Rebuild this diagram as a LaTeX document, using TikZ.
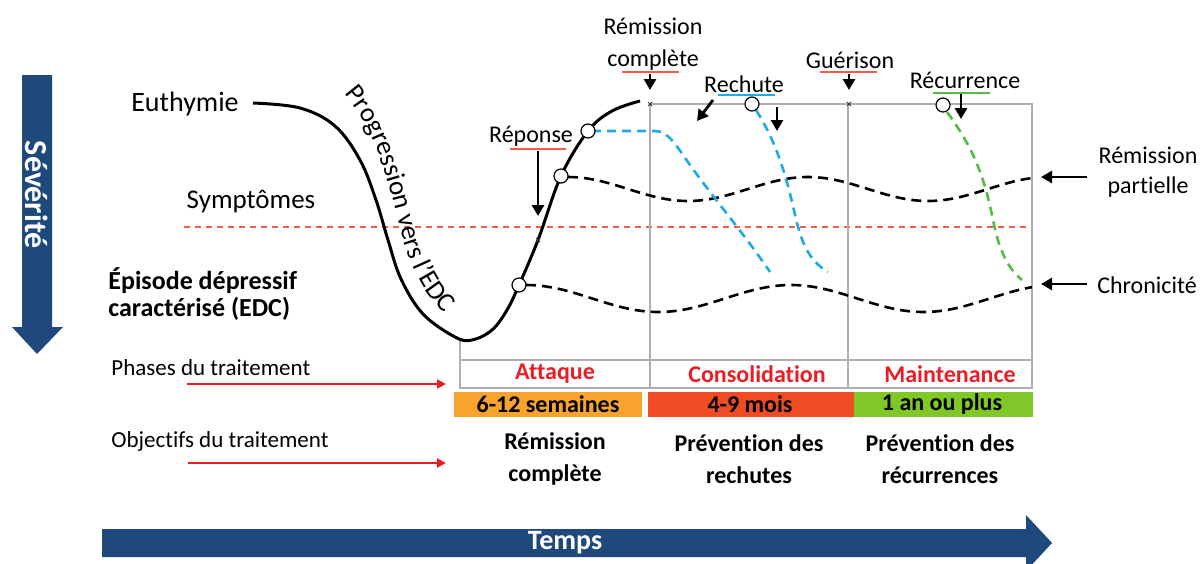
\documentclass[tikz,border=0pt]{standalone}
\usepackage{fontspec}
\setmainfont{Carlito}[Ligatures={TeX,NoCommon}]
\usetikzlibrary{arrows.meta, calc, decorations.text}

\definecolor{navy}{RGB}{31,73,125}
\definecolor{barorange}{RGB}{248,163,46}
\definecolor{barred}{RGB}{240,76,36}
\definecolor{bargreen}{RGB}{128,200,40}
\definecolor{phasered}{RGB}{236,28,36}
\definecolor{seuilred}{RGB}{246,92,72}
\definecolor{rechblue}{RGB}{30,170,230}
\definecolor{recgreen}{RGB}{84,186,72}
\definecolor{gridgray}{RGB}{175,175,175}

\begin{document}
\begin{tikzpicture}[x=0.5pt, y=-0.5pt,
    lbl/.style={inner sep=0pt, align=center, font=\fontsize{12}{16}\selectfont},
    phase/.style={lbl, text=phasered, font=\bfseries\fontsize{12}{16}\selectfont},
    goal/.style={lbl, font=\bfseries\fontsize{12}{16}\selectfont},
    ring/.style={circle, draw, fill=white, line width=0.6pt, inner sep=0pt, minimum size=7pt},
    blkarrow/.style={-{Triangle[length=5.5pt,width=6pt]}, line width=1.4pt},
    redarrow/.style={-{Triangle[length=4.5pt,width=4.5pt]}, line width=1.2pt, phasered},
    wave/.style={line width=1.3pt, dash pattern=on 5pt off 3pt},
    grid/.style={gridgray, line width=0.6pt}]
    \useasboundingbox (0,0) rectangle (1203,563);

    % axes
    \fill[navy] (22,75) -- (52,75) -- (52,327) -- (63,327) -- (37,354) -- (12,327) -- (22,327) -- cycle;
    \node[lbl, text=white, rotate=-90, font=\bfseries\fontsize{16}{16}\selectfont] (sev) at (37,195) {Sévérité};
    \fill[navy] (102,529) -- (1026,529) -- (1026,515) -- (1052,543) -- (1026,571) -- (1026,557) -- (102,557) -- cycle;
    \node[lbl, text=white, font=\bfseries\fontsize{14}{14}\selectfont] (temps) at (565,543) {Temps};

    % left labels
    \node[lbl, font=\fontsize{14}{16}\selectfont] (euth) at (185,104) {Euthymie};
    \node[lbl, font=\fontsize{13.5}{16}\selectfont] (sympt) at (251,202) {Symptômes};
    \node[lbl, anchor=west, align=left, font=\bfseries\fontsize{13}{13.5}\selectfont] (edc) at (108,294) {Épisode dépressif\\caractérisé (EDC)};
    \node[lbl, anchor=west, font=\fontsize{11.5}{14}\selectfont] (phases) at (111,368) {Phases du traitement};
    \node[lbl, anchor=west, font=\fontsize{11.5}{14}\selectfont] (objectifs) at (111,441) {Objectifs du traitement};
    \coordinate (pa1) at (187,384);
    \coordinate (pa2) at (446,384);
    \coordinate (oa1) at (188,463);
    \coordinate (oa2) at (446,463);
    \draw[redarrow] (pa1) -- (pa2);
    \draw[redarrow] (oa1) -- (oa2);

    % threshold
    \draw[seuilred, line width=0.7pt, dash pattern=on 3pt off 2.5pt] (184,227) -- (1032,227);

    % phases grid
    \draw[grid] (650,104) -- (1032,104) -- (1032,388) -- (460,388) -- (460,340);
    \draw[grid] (460,360) -- (1032,360);
    \draw[grid] (650,104) -- (650,388);
    \draw[grid] (848,104) -- (848,388);
    \node[phase] (attaque) at (555,374) {Attaque};
    \node[phase] (consol) at (757,374) {Consolidation};
    \node[phase] (maint) at (950,374) {Maintenance};

    % durations
    \fill[barorange] (454,392) rectangle (642,417);
    \fill[barred] (648,392) rectangle (854,417);
    \fill[bargreen] (854,392) rectangle (1033,417);
    \node[goal] (dur1) at (548,404) {6-12 semaines};
    \node[goal] (dur2) at (750,404) {4-9 mois};
    \node[goal] (dur3) at (942,404) {1 an ou plus};

    % objectives
    \node[goal] (obj1) at (555,459) {Rémission\\complète};
    \node[goal] (obj2) at (749,459) {Prévention des\\rechutes};
    \node[goal] (obj3) at (940,459) {Prévention des\\récurrences};

    % course of the episode
    \draw[line width=1.5pt] plot[smooth, tension=0.6] coordinates {(253,103) (300,108) (335,126) (360,160) (376,200) (388,240) (401,279) (423,314) (455,337) (472,340) (492,330) (507,310) (519,285) (538,240) (561,176) (588,131) (612,111) (640,101)};
    \path[decorate, decoration={text along path, text align=left,
        text={|\fontsize{13.5}{13.5}\selectfont|Progression vers l’EDC}}]
        (344,94) .. controls (376,130) and (388,180) .. (399,224) .. controls (410,266) and (424,298) .. (458,326);

    % residual symptoms
    \draw[wave] plot[domain=568:1032, samples=80, smooth] (\x, {189-12*cos(1.5*(\x-568))});
    \draw[wave] plot[domain=526:1032, samples=80, smooth] (\x, {298.5-13.5*cos(1.3585*(\x-526))});

    % relapses
    \draw[rechblue, wave, dash pattern=on 4.5pt off 3pt] (592,131) -- (655,131) .. controls (668,131) and (676,145) .. (690,165) .. controls (715,200) and (745,235) .. (770,272);
    \draw[rechblue, wave, dash pattern=on 4.5pt off 3pt] (756,110) .. controls (775,140) and (785,170) .. (795,215) .. controls (803,250) and (812,262) .. (828,272);
    \draw[recgreen, wave, dash pattern=on 4.5pt off 3pt] (947,112) .. controls (975,150) and (985,180) .. (993,220) .. controls (1000,255) and (1010,270) .. (1022,280);

    \node[ring] (c1) at (519,285) {};
    \node[ring] (c2) at (561,176) {};
    \node[ring] (c3) at (588,131) {};
    \node[ring] (c4) at (752,104) {};
    \node[ring] (c5) at (943,105) {};

    % events
    \coordinate (xrep) at (538,240);
    \coordinate (xrc) at (650,104);
    \coordinate (xgu) at (849,104);
    \foreach \p in {xrep,xrc,xgu}
        \draw[gray!40!black, line width=0.4pt] ($(\p)+(-2,-2)$) -- ($(\p)+(2,2)$) ($(\p)+(-2,2)$) -- ($(\p)+(2,-2)$);

    \node[lbl] (reponse) at (531,136) {Réponse};
    \draw[seuilred, line width=0.8pt] (510,149) -- (566,149);
    \coordinate (repA) at (538,151);
    \coordinate (repB) at (538,216);
    \draw[blkarrow] (repA) -- (repB);

    \node[lbl] (remcomp) at (653,44) {Rémission\\complète};
    \draw[seuilred, line width=0.8pt] (622,72) -- (679,72);
    \coordinate (rcA) at (650,74);
    \draw[blkarrow, shorten >=7pt] (rcA) -- (xrc);

    \node[lbl] (rechute) at (744,84) {Rechute};
    \draw[rechblue, line width=0.8pt] (718,95) -- (775,95);
    \coordinate (rchA) at (713,100);
    \coordinate (rchB) at (697,121);
    \coordinate (rchC) at (777,107);
    \coordinate (rchD) at (777,131);
    \draw[blkarrow] (rchA) -- (rchB);
    \draw[blkarrow] (rchC) -- (rchD);

    \node[lbl] (guerison) at (850,60) {Guérison};
    \draw[seuilred, line width=0.8pt] (820,72) -- (877,72);
    \coordinate (guA) at (849,74);
    \draw[blkarrow, shorten >=7pt] (guA) -- (xgu);

    \node[lbl] (recurr) at (965,80) {Récurrence};
    \draw[recgreen, line width=0.8pt] (933,93) -- (990,93);
    \coordinate (recA) at (961,94);
    \coordinate (recB) at (961,119);
    \draw[blkarrow] (recA) -- (recB);

    % outcomes
    \node[lbl, font=\fontsize{12}{15}\selectfont] (rempart) at (1148,172) {Rémission\\partielle};
    \node[lbl] (chron) at (1147,285) {Chronicité};
    \coordinate (rpA) at (1087,177);
    \coordinate (rpB) at (1041,177);
    \coordinate (chA) at (1087,284);
    \coordinate (chB) at (1041,284);
    \draw[blkarrow] (rpA) -- (rpB);
    \draw[blkarrow] (chA) -- (chB);
\end{tikzpicture}
\end{document}
